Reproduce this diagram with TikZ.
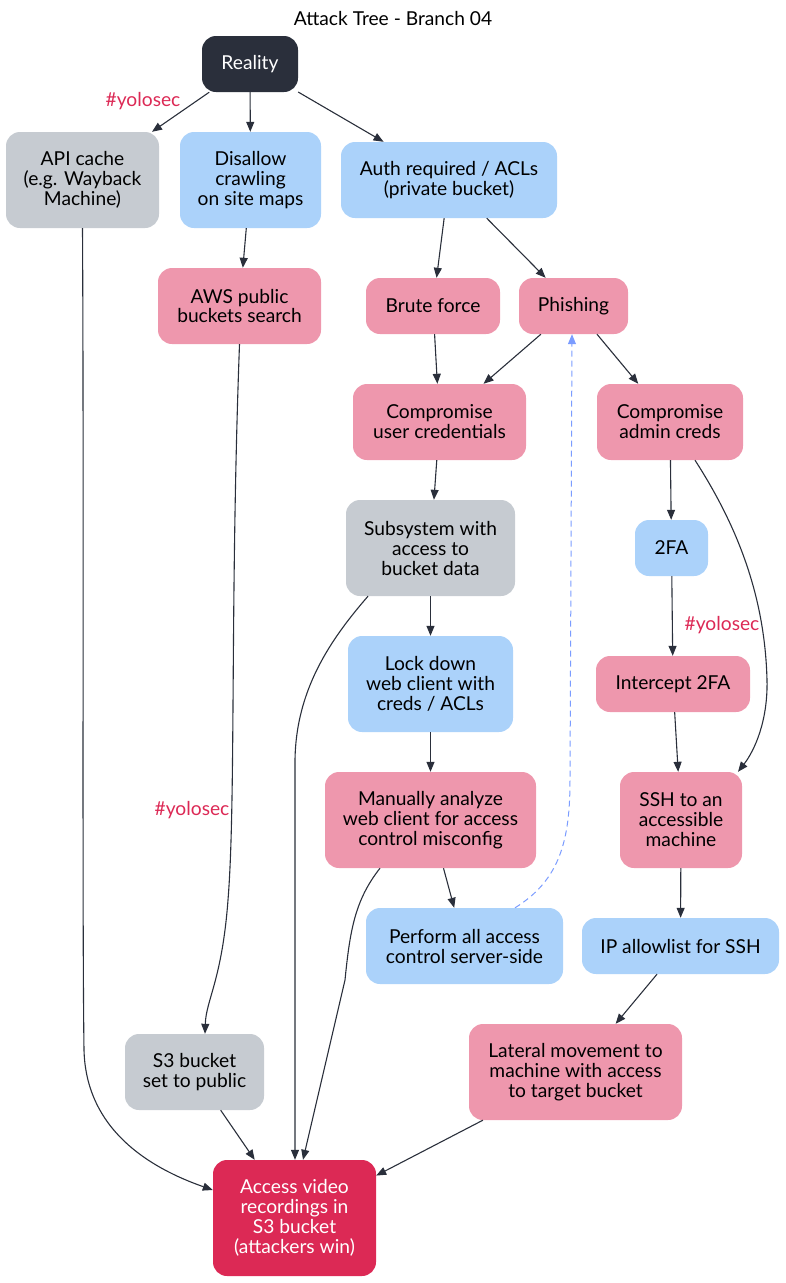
\documentclass[tikz,border=0pt]{standalone}
\usepackage{fontspec}
\setmainfont{Lato}
\usepackage{tikz}
\usetikzlibrary{arrows.meta}
\definecolor{rootc}{HTML}{2A2F3B}
\definecolor{greyc}{HTML}{C6CBD1}
\definecolor{bluec}{HTML}{ABD2FA}
\definecolor{pinkc}{HTML}{EE97AD}
\definecolor{winc}{HTML}{DC2955}
\definecolor{dashc}{HTML}{7B9CFF}

\begin{document}
\begin{tikzpicture}[
        x=1pt, y=-1pt,
        font=\fontsize{19.2}{20}\selectfont,
        box/.style={rounded corners=14pt, align=center, inner sep=0pt},
        dims/.style 2 args={minimum width=#1pt, minimum height=#2pt},
        root/.style={box, fill=rootc, text=white},
        neutral/.style={box, fill=greyc},
        defense/.style={box, fill=bluec},
        attack/.style={box, fill=pinkc},
        win/.style={box, fill=winc, text=white},
        yolo/.style={text=winc},
        line/.style={-{Triangle[length=10pt,width=8pt]}, line width=1.1pt, draw=rootc},
        back/.style={-{Triangle[length=10pt,width=8pt]}, line width=1pt, draw=dashc, dash pattern=on 6pt off 4pt}
    ]
        \useasboundingbox (0,0) rectangle (786,1283);
        \node (title) at (393,19) {Attack Tree - Branch 04};

        \node[root, dims={96}{56}] (reality) at (250,64) {Reality};
        \node[neutral, dims={153}{96}] (apicache) at (82.5,180) {API cache\\(e.g. Wayback\\Machine)};
        \node[defense, dims={141}{96}] (disallow) at (250.5,180) {Disallow\\crawling\\on site maps};
        \node[defense, dims={216}{76}] (auth) at (449,180) {Auth required / ACLs\\(private bucket)};
        \node[attack, dims={163}{76}] (awssearch) at (239.5,306) {AWS public\\buckets search};
        \node[attack, dims={134}{56}] (brute) at (433,306) {Brute force};
        \node[attack, dims={109}{56}] (phishing) at (573.5,306) {Phishing};
        \node[attack, dims={173}{76}] (usercreds) at (439.5,422) {Compromise\\user credentials};
        \node[attack, dims={146}{76}] (admincreds) at (670,422) {Compromise\\admin creds};
        \node[neutral, dims={169}{96}] (subsys) at (430.5,548) {Subsystem with\\access to\\bucket data};
        \node[defense, dims={73}{56}] (twofa) at (671.5,548) {2FA};
        \node[defense, dims={165}{96}] (lockdown) at (430.5,684) {Lock down\\web client with\\creds / ACLs};
        \node[attack, dims={154}{56}] (intercept) at (673,684) {Intercept 2FA};
        \node[attack, dims={211}{96}] (manual) at (430.5,820) {Manually analyze\\web client for access\\control misconfig};
        \node[attack, dims={122}{96}] (ssh) at (681,820) {SSH to an\\accessible\\machine};
        \node[defense, dims={197}{76}] (serverside) at (464.5,946) {Perform all access\\control server-side};
        \node[defense, dims={197}{56}] (allowlist) at (680.5,946) {IP allowlist for SSH};
        \node[attack, dims={213}{96}] (lateral) at (575.5,1072) {Lateral movement to\\machine with access\\to target bucket};
        \node[neutral, dims={139}{76}] (s3public) at (194.5,1072) {S3 bucket\\set to public};
        \node[win, dims={163}{116}] (access) at (294.5,1218) {Access video\\recordings in\\S3 bucket\\(attackers win)};

        \node[yolo] (yoloapi) at (143,101) {\#yolosec};
        \node[yolo] (yoloaws) at (192,810) {\#yolosec};
        \node[yolo] (yolotwofa) at (722,625) {\#yolosec};

        \draw[line] (reality) -- (apicache);
        \draw[line] (reality) -- (disallow);
        \draw[line] (reality) -- (auth);
        \draw[line] (disallow) -- (awssearch);
        \draw[line] (auth) -- (brute);
        \draw[line] (auth) -- (phishing);
        \draw[line] (brute) -- (usercreds);
        \draw[line] (phishing) -- (usercreds);
        \draw[line] (phishing) -- (admincreds);
        \draw[line] (usercreds) -- (subsys);
        \draw[line] (subsys) -- (lockdown);
        \draw[line] (lockdown) -- (manual);
        \draw[line] (manual) -- (serverside);
        \draw[line] (admincreds) -- (twofa);
        \draw[line] (twofa) -- (intercept);
        \draw[line] (intercept) -- (ssh);
        \draw[line] (ssh) -- (allowlist);
        \draw[line] (allowlist) -- (lateral);
        \draw[line] (lateral) -- (access);
        \draw[line] (s3public) -- (access);

        % curved edges
        \draw[line] (apicache.south) .. controls (84,500) and (82,900) .. (84,1050)
            .. controls (86,1130) and (150,1168) .. (access.west |- 0,1190);
        \draw[line] (awssearch.south) .. controls (230,600) and (236,800) .. (228,900)
            .. controls (222,980) and (206,1000) .. (s3public.north -| 205,0);
        \draw[line] (subsys.south -| 368,0) .. controls (330,640) and (296,690) .. (295,760)
            -- (access.north -| 295,0);
        \draw[line] (manual.south -| 380,0) .. controls (355,900) and (350,930) .. (345,980)
            -- (access.north -| 303,0);
        \draw[line] (admincreds.south -| 695,0) .. controls (740,530) and (765,600) .. (767,680)
            .. controls (768,720) and (755,750) .. (ssh.north -| 738,0);
        \draw[back] (serverside.north -| 515,0) .. controls (560,880) and (570,840) .. (570,780)
            -- (phishing.south -| 572,0);
    \end{tikzpicture}
\end{document}
